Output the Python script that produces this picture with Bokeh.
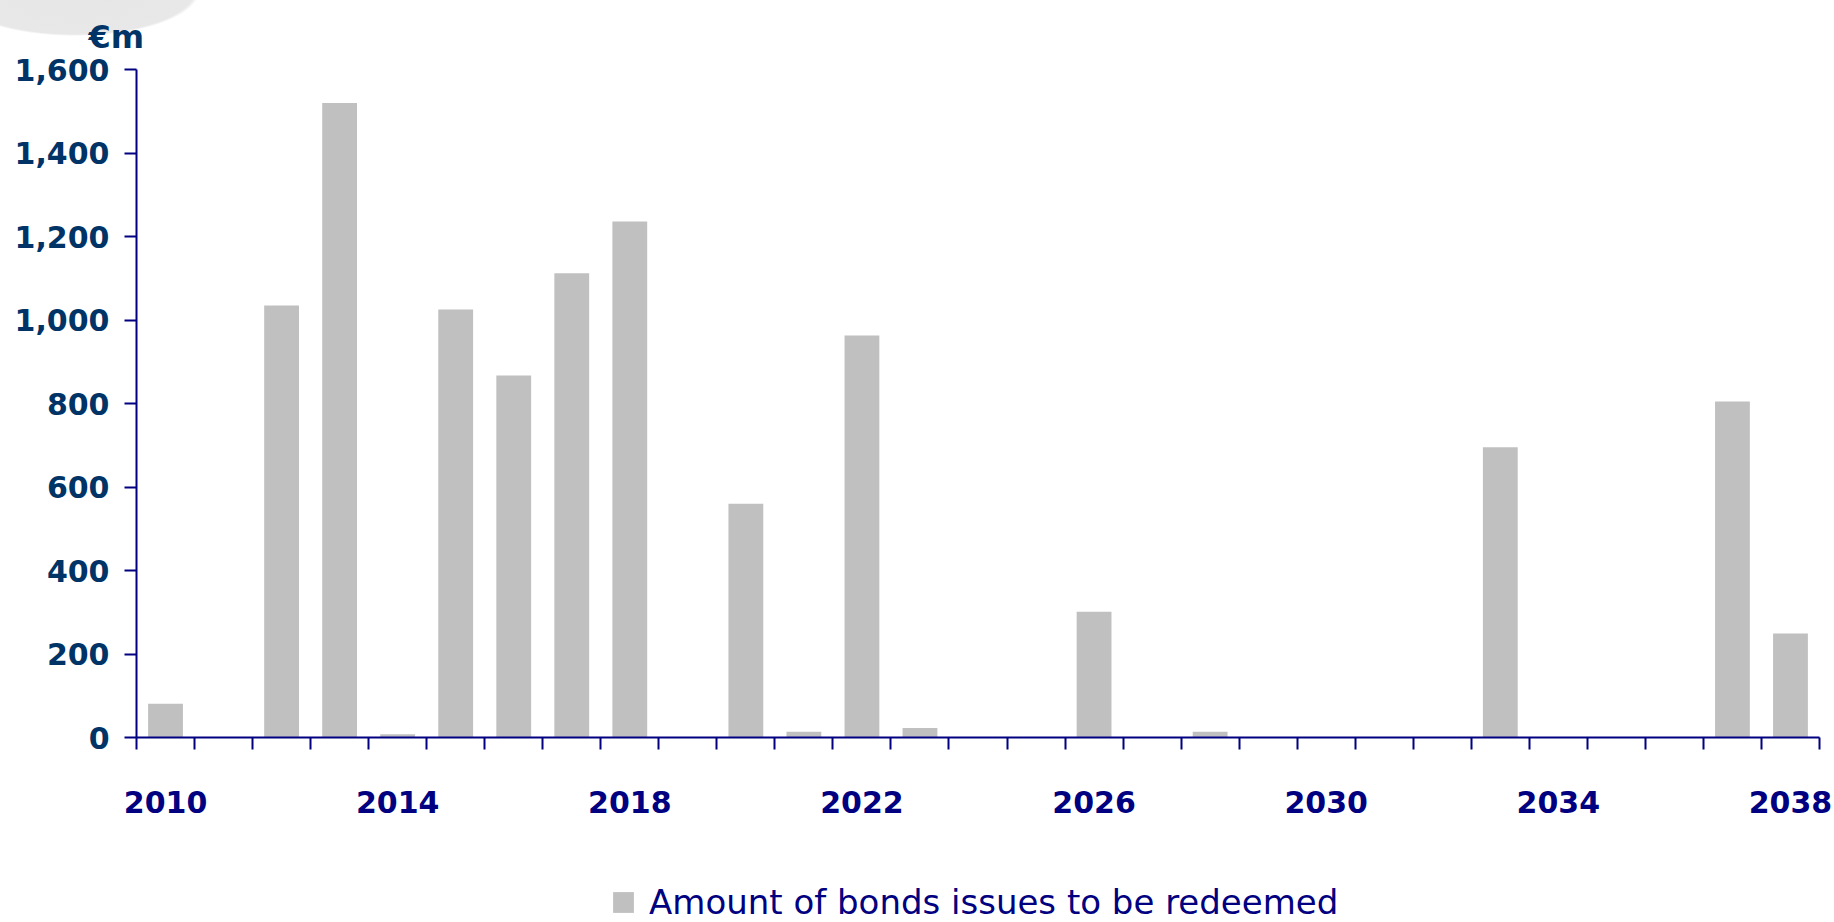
from bokeh.plotting import figure
from bokeh.layouts import column
from bokeh.models import (ColumnDataSource, Range1d, FixedTicker, NumeralTickFormatter,
                          Legend, LegendItem, Title)
from bokeh.embed import file_html
from bokeh.resources import INLINE

# Redemption schedule of bond issues (EUR millions) by year
years = list(range(2010, 2039))
amounts = [81, 0, 1035, 1520, 8, 1025, 867, 1112, 1236, 0,
           560, 14, 963, 23, 0, 0, 301, 0, 14, 0,
           0, 0, 0, 695, 0, 0, 0, 805, 249]
year_labels = [2010, 2014, 2018, 2022, 2026, 2030, 2034, 2038]
y_ticks = [0, 200, 400, 600, 800, 1000, 1200, 1400, 1600]
series_name = "Amount of bonds issues to be redeemed"
unit_label = "€m"

NAVY = "#000080"
DARK_BLUE = "#003366"
BAR_GREY = "#C0C0C0"
FONT = "DejaVu Sans"
WIDTH = 1834
CHART_H = 860
LEGEND_H = 62

source = ColumnDataSource(dict(year=years, amount=amounts))

p = figure(width=WIDTH, height=CHART_H,
           x_range=Range1d(years[0] - 0.5, years[-1] + 0.5),
           y_range=Range1d(y_ticks[0], y_ticks[-1]),
           output_backend="svg", toolbar_location=None,
           min_border_left=136, min_border_right=15,
           min_border_top=69, min_border_bottom=CHART_H - 737)
p.outline_line_color = None
p.background_fill_color = "white"
p.border_fill_color = None
p.xgrid.grid_line_color = None
p.ygrid.grid_line_color = None
# faint grey swoosh behind the top-left corner
p.styles = {"background": "radial-gradient(ellipse 125px 46px at 75px -10px, "
                          "#E6E6E6 0%, #E8E8E8 96%, rgba(255,255,255,0) 100%) no-repeat, white"}

bars = p.vbar(x="year", top="amount", width=0.6, source=source,
              fill_color=BAR_GREY, line_color=None)

# x axis: labels every four years at the bar centres, ticks between years
xa = p.xaxis[0]
xa.ticker = FixedTicker(ticks=year_labels,
                        minor_ticks=[y - 0.5 for y in years] + [years[-1] + 0.5])
xa.axis_line_color = NAVY
xa.axis_line_width = 2
xa.major_tick_line_color = None
xa.major_tick_out = 0
xa.major_tick_in = 0
xa.minor_tick_line_color = NAVY
xa.minor_tick_line_width = 2
xa.minor_tick_out = 12
xa.minor_tick_in = 0
xa.major_label_standoff = 41
xa.major_label_text_font = FONT
xa.major_label_text_font_style = "bold"
xa.major_label_text_font_size = "30px"
xa.major_label_text_color = NAVY

ya = p.yaxis[0]
ya.ticker = FixedTicker(ticks=y_ticks)
ya.formatter = NumeralTickFormatter(format="0,0")
ya.axis_line_color = NAVY
ya.axis_line_width = 2
ya.major_tick_line_color = NAVY
ya.major_tick_line_width = 2
ya.major_tick_out = 12
ya.major_tick_in = 0
ya.minor_tick_line_color = None
ya.major_label_standoff = 15
ya.major_label_text_font = FONT
ya.major_label_text_font_style = "bold"
ya.major_label_text_font_size = "30px"
ya.major_label_text_color = DARK_BLUE

# unit caption above the value axis
p.add_layout(Title(text=unit_label, align="left", offset=-48, standoff=28,
                   text_font=FONT, text_font_style="bold",
                   text_font_size="32px", text_color=DARK_BLUE), "above")

# strip underneath the chart holding the series key; the renderer there is
# hidden and only serves the key swatch
k = figure(width=WIDTH, height=LEGEND_H, x_range=Range1d(0, 1), y_range=Range1d(0, 1),
           output_backend="svg", toolbar_location=None,
           min_border=0, outline_line_color=None)
k.axis.visible = False
k.grid.visible = False
k.background_fill_color = "white"
k.border_fill_color = "white"
key_bars = k.vbar(x="year", top="amount", width=0.6, source=source,
                  fill_color=BAR_GREY, line_color=None, visible=False)

legend = Legend(items=[LegendItem(label=series_name, renderers=[key_bars])],
                location=(474, 0), orientation="horizontal",
                glyph_width=26, glyph_height=26, label_standoff=13,
                label_height=26,
                label_text_font=FONT, label_text_font_size="34px",
                label_text_color=NAVY, border_line_color=None,
                background_fill_alpha=0, inactive_fill_alpha=0,
                padding=0, margin=0)
k.add_layout(legend)

layout = column(p, k, spacing=0)
open("out.html", "w").write(file_html(layout, INLINE))
